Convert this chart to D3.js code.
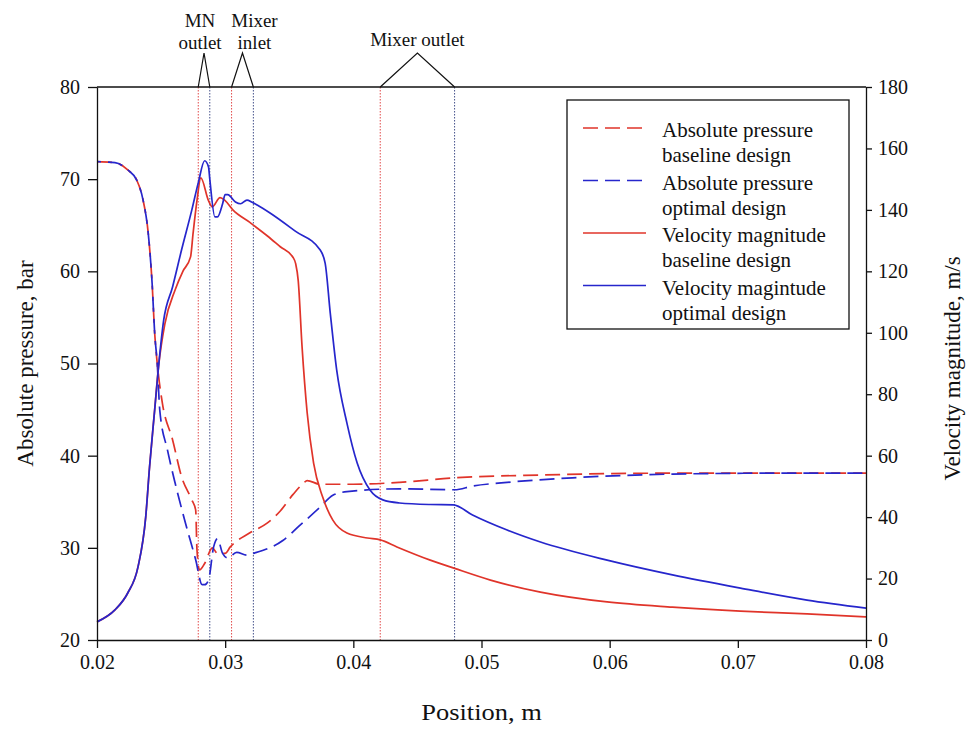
<!DOCTYPE html>
<html>
<head>
<meta charset="utf-8">
<script src="https://cdn.jsdelivr.net/npm/d3@7"></script>
<style>
  body { margin: 0; background: #fff; }
  svg text { font-family: "Liberation Serif", "Times New Roman", serif; fill: #111; }
  .axis path, .axis line { stroke: #111; stroke-width: 1.3; }
  .axis text { font-size: 20px; }
</style>
</head>
<body>
<svg id="chart" width="966" height="729"></svg>
<script>
// absolute pressure, baseline design (bar)
const posPresBase = [0.0200, 0.0214, 0.0224, 0.0231, 0.0236, 0.0240, 0.0243, 0.0245, 0.0247, 0.0251, 0.0259, 0.0266, 0.0274, 0.0277, 0.0278, 0.0280, 0.0284, 0.0290, 0.0294, 0.0300, 0.0304, 0.0319, 0.0333, 0.0343, 0.0353, 0.0361, 0.0364, 0.0374, 0.0400, 0.0436, 0.0479, 0.0546, 0.0649, 0.0800];
const presBase = [71.9, 71.8, 71.0, 69.9, 67.7, 64.1, 58.7, 53.3, 50.0, 45.7, 41.7, 37.7, 35.2, 34.1, 29.8, 27.6, 28.3, 30.0, 29.4, 29.4, 30.1, 31.6, 32.7, 34.0, 35.8, 37.0, 37.3, 36.9, 36.9, 37.1, 37.6, 37.9, 38.1, 38.1];

// absolute pressure, optimal design (bar)
const posPresOpt = [0.0200, 0.0214, 0.0224, 0.0231, 0.0236, 0.0240, 0.0243, 0.0245, 0.0247, 0.0249, 0.0255, 0.0261, 0.0269, 0.0277, 0.0282, 0.0284, 0.0287, 0.0291, 0.0294, 0.0298, 0.0302, 0.0309, 0.0317, 0.0322, 0.0345, 0.0358, 0.0374, 0.0384, 0.0395, 0.0436, 0.0479, 0.0493, 0.0520, 0.0571, 0.0649, 0.0727, 0.0800];
const presOpt = [71.9, 71.8, 71.0, 69.9, 67.7, 64.1, 58.7, 53.3, 50.0, 44.9, 40.6, 37.0, 32.7, 28.7, 26.0, 26.0, 26.5, 30.1, 31.0, 29.4, 28.9, 29.5, 29.2, 29.4, 30.8, 32.4, 34.4, 35.7, 36.1, 36.4, 36.3, 36.7, 37.1, 37.6, 38.0, 38.1, 38.1];

// velocity magnitude, baseline design (m/s)
const posVelBase = [0.0200, 0.0214, 0.0224, 0.0232, 0.0238, 0.0241, 0.0245, 0.0248, 0.0253, 0.0261, 0.0267, 0.0273, 0.0275, 0.0278, 0.0281, 0.0287, 0.0290, 0.0296, 0.0300, 0.0306, 0.0319, 0.0333, 0.0343, 0.0353, 0.0355, 0.0357, 0.0360, 0.0364, 0.0369, 0.0376, 0.0384, 0.0395, 0.0411, 0.0421, 0.0434, 0.0460, 0.0479, 0.0507, 0.0546, 0.0598, 0.0649, 0.0702, 0.0754, 0.0800];
const velBase = [5.9, 9.8, 15.3, 23.8, 40, 56.3, 74.9, 88.9, 103, 114, 120, 124.7, 132.5, 143, 150.4, 143, 141, 144, 143, 140, 136, 131.5, 128, 124.5, 122.5, 117, 95.4, 73.9, 57.6, 46.6, 39, 34.8, 33.2, 32.6, 30.3, 26, 23.3, 19.5, 15.6, 12.4, 10.7, 9.4, 8.5, 7.5];

// velocity magnitude, optimal design (m/s)
const posVelOpt = [0.0200, 0.0214, 0.0224, 0.0232, 0.0238, 0.0241, 0.0245, 0.0248, 0.0252, 0.0259, 0.0266, 0.0274, 0.0279, 0.0284, 0.0287, 0.0288, 0.0292, 0.0294, 0.0298, 0.0300, 0.0302, 0.0308, 0.0312, 0.0317, 0.0321, 0.0325, 0.0335, 0.0355, 0.0374, 0.0378, 0.0382, 0.0387, 0.0395, 0.0403, 0.0413, 0.0423, 0.0436, 0.0460, 0.0478, 0.0493, 0.0520, 0.0546, 0.0598, 0.0649, 0.0702, 0.0754, 0.0800];
const velOpt = [5.9, 9.8, 15.3, 23.8, 40, 56.3, 74.9, 88.9, 104, 115, 127, 140, 148.8, 156, 154, 150, 137.7, 137.7, 142, 145, 145, 142.6, 142, 143.2, 142.5, 141.6, 139, 133, 127, 122.7, 106.4, 87.9, 70.6, 57.6, 48.8, 45.6, 44.6, 44.1, 44, 40.7, 35.8, 31.9, 26, 21.2, 16.9, 13, 10.4];

// section boundaries (red = baseline, blue = optimal)
const markerNames = [['MN', 'outlet'], ['Mixer', 'inlet'], ['Mixer outlet']];
const markerBase = [0.0279, 0.0305, 0.0421];
const markerOpt = [0.0288, 0.0322, 0.0479];

const xTicks = [0.02, 0.03, 0.04, 0.05, 0.06, 0.07, 0.08];
const presTicks = [20, 30, 40, 50, 60, 70, 80];
const velTicks = [0, 20, 40, 60, 80, 100, 120, 140, 160, 180];

const legendNames = [
  ['Absolute pressure', 'baseline design'],
  ['Absolute pressure', 'optimal design'],
  ['Velocity magnitude', 'baseline design'],
  ['Velocity magintude', 'optimal design'],
];

const RED = '#e0342a';
const BLUE = '#2626cc';

const svg = d3.select('#chart');
const margin = { top: 87, right: 100, bottom: 89, left: 97 };
const W = +svg.attr('width');
const H = +svg.attr('height');
const x0 = margin.left, x1 = W - margin.right;
const y0 = margin.top, y1 = H - margin.bottom;

const x = d3.scaleLinear().domain([0.02, 0.08]).range([x0, x1]);
const yP = d3.scaleLinear().domain([20, 80]).range([y1, y0]);
const yV = d3.scaleLinear().domain([0, 180]).range([y1, y0]);

// dotted section lines
const markers = svg.append('g');
markers.selectAll('line.base')
  .data(markerBase)
  .enter().append('line')
  .attr('x1', d => x(d)).attr('x2', d => x(d))
  .attr('y1', y0).attr('y2', y1)
  .attr('stroke', '#e24a4a').attr('stroke-width', 1)
  .attr('stroke-dasharray', '1.5,1.5');
markers.selectAll('line.opt')
  .data(markerOpt)
  .enter().append('line')
  .attr('x1', d => x(d)).attr('x2', d => x(d))
  .attr('y1', y0).attr('y2', y1)
  .attr('stroke', '#44508a').attr('stroke-width', 1)
  .attr('stroke-dasharray', '1.5,1.5');

// curves
const series = [
  { xs: posPresBase, ys: presBase, y: yP, color: RED, dash: '15,7', offset: 0 },
  { xs: posPresOpt, ys: presOpt, y: yP, color: BLUE, dash: '15,7', offset: 11 },
  { xs: posVelBase, ys: velBase, y: yV, color: RED, dash: null, offset: 0 },
  { xs: posVelOpt, ys: velOpt, y: yV, color: BLUE, dash: null, offset: 0 },
];

const curves = svg.append('g');
series.forEach(s => {
  const line = d3.line()
    .x(i => x(s.xs[i]))
    .y(i => s.y(s.ys[i]))
    .curve(d3.curveMonotoneX);
  curves.append('path')
    .attr('d', line(d3.range(s.xs.length)))
    .attr('fill', 'none')
    .attr('stroke', s.color)
    .attr('stroke-width', 1.7)
    .attr('stroke-dasharray', s.dash)
    .attr('stroke-dashoffset', s.offset);
});

// axes
svg.append('g')
  .attr('class', 'axis')
  .attr('transform', `translate(0,${y1})`)
  .call(d3.axisBottom(x).tickValues(xTicks).tickFormat(d3.format('.2f')).tickSize(8).tickSizeOuter(0).tickPadding(7));
svg.append('g')
  .attr('class', 'axis')
  .attr('transform', `translate(${x0},0)`)
  .call(d3.axisLeft(yP).tickValues(presTicks).tickSize(9).tickSizeOuter(0).tickPadding(8));
svg.append('g')
  .attr('class', 'axis')
  .attr('transform', `translate(${x1},0)`)
  .call(d3.axisRight(yV).tickValues(velTicks).tickSize(6).tickSizeOuter(0).tickPadding(6));
svg.append('line')
  .attr('x1', x0).attr('x2', x1)
  .attr('y1', y0).attr('y2', y0)
  .attr('stroke', '#111').attr('stroke-width', 1.3);

// axis titles
svg.append('text')
  .attr('transform', `translate(33,${(y0 + y1) / 2}) rotate(-90)`)
  .attr('text-anchor', 'middle')
  .style('font-size', '23px')
  .text('Absolute pressure, bar');
svg.append('text')
  .attr('transform', `translate(960,${(y0 + y1) / 2 + 5}) rotate(-90)`)
  .attr('text-anchor', 'middle')
  .style('font-size', '23px')
  .text('Velocity magnitude, m/s');
svg.append('text')
  .attr('transform', `translate(${(x0 + x1) / 2},720) scale(1.15,1)`)
  .attr('text-anchor', 'middle')
  .style('font-size', '23px')
  .text('Position, m');

// bracket annotations above the frame
const notes = svg.append('g');
const apexY = y0 - 34;
const labelDx = [-4, 12, 0];
markerNames.forEach((name, i) => {
  const xa = x(markerBase[i]);
  const xb = x(markerOpt[i]);
  const xm = (xa + xb) / 2;
  notes.append('path')
    .attr('d', `M${xa},${y0} L${xm},${apexY} L${xb},${y0}`)
    .attr('fill', 'none')
    .attr('stroke', '#111')
    .attr('stroke-width', 1.2);
  const t = notes.append('text')
    .attr('text-anchor', 'middle')
    .style('font-size', '19px');
  if (name.length === 2) {
    t.append('tspan').attr('x', xm + labelDx[i]).attr('y', 27).text(name[0]);
    t.append('tspan').attr('x', xm + labelDx[i]).attr('y', 49).text(name[1]);
  } else {
    t.attr('x', xm + labelDx[i]).attr('y', 46).text(name[0]);
  }
});

// legend
const legend = svg.append('g').attr('transform', 'translate(567,100)');
legend.append('rect')
  .attr('width', 282).attr('height', 229)
  .attr('fill', '#fff')
  .attr('stroke', '#111').attr('stroke-width', 1.3);
const rows = legend.selectAll('g.row')
  .data(series.map((s, i) => ({ ...s, name: legendNames[i] })))
  .enter().append('g')
  .attr('transform', (d, i) => `translate(0,${28 + i * 52.5})`);
rows.append('line')
  .attr('x1', 16).attr('x2', d => (d.dash ? 75 : 79))
  .attr('y1', 0).attr('y2', 0)
  .attr('stroke', d => d.color)
  .attr('stroke-width', 1.7)
  .attr('stroke-dasharray', d => d.dash);
const lt = rows.append('text').style('font-size', '21px');
lt.append('tspan').attr('x', 95).attr('y', 9).text(d => d.name[0]);
lt.append('tspan').attr('x', 95).attr('y', 34).text(d => d.name[1]);
</script>
</body>
</html>
